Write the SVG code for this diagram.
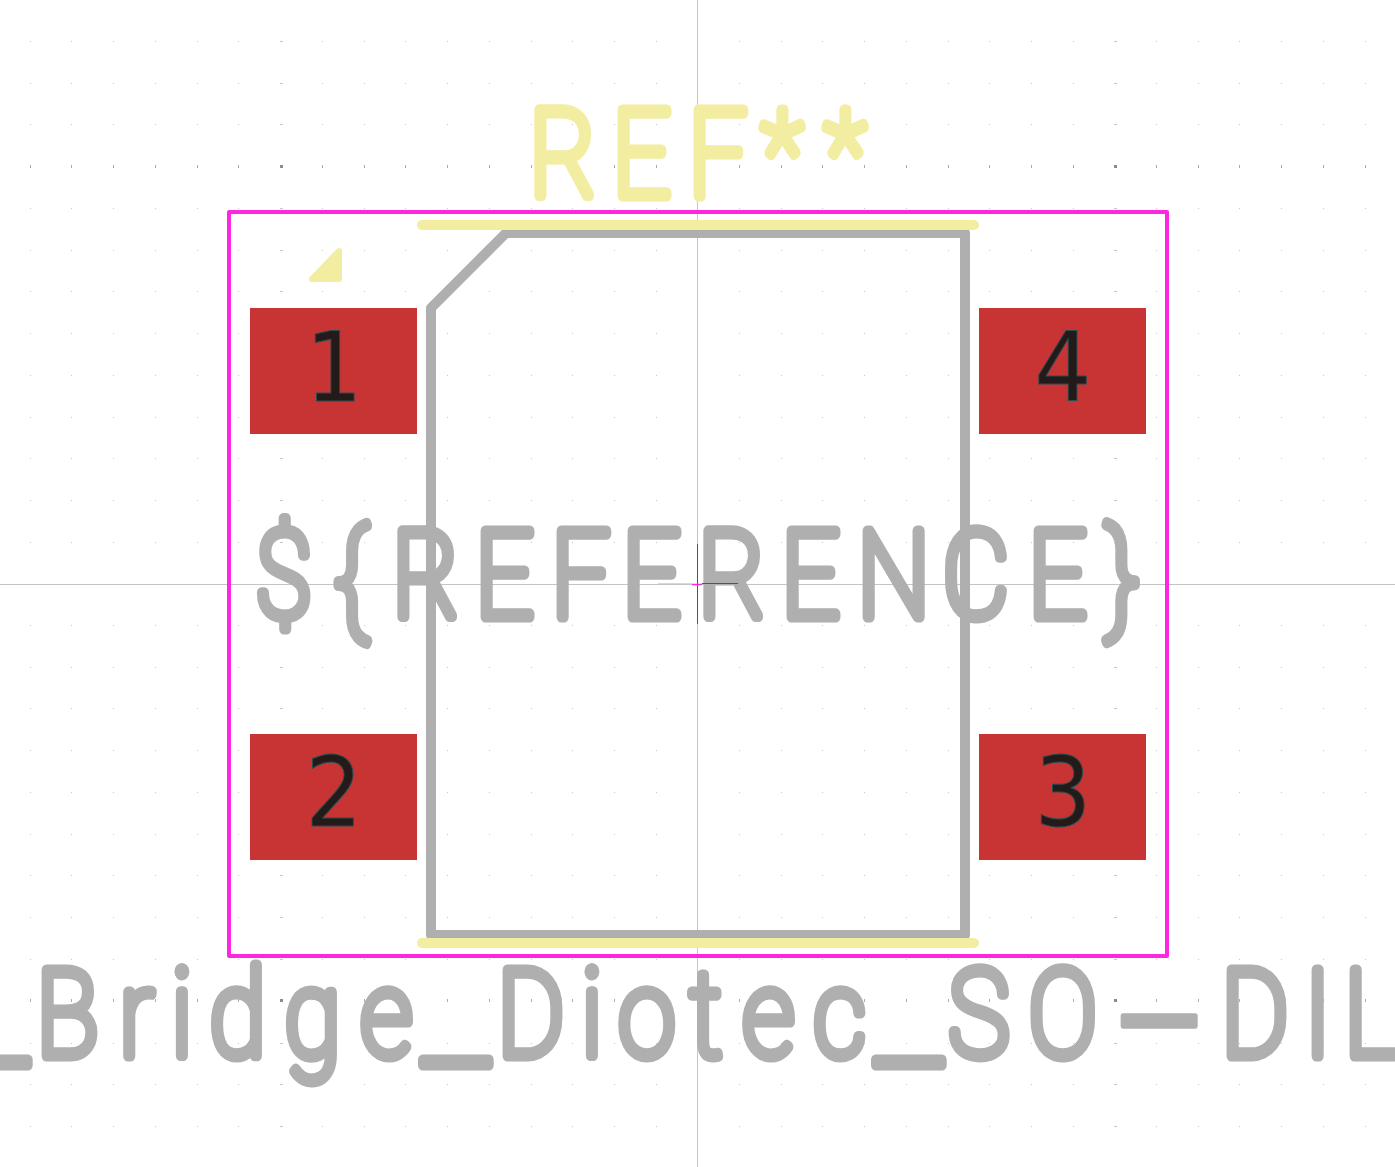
<svg xmlns="http://www.w3.org/2000/svg" xmlns:xlink="http://www.w3.org/1999/xlink" width="1395" height="1167" viewBox="0 0 1395 1167">
<style>
.fab{fill:none;stroke:#afafaf;stroke-width:10;stroke-linejoin:round;stroke-linecap:round}
.silk{fill:none;stroke:#f2eda1;stroke-width:10;stroke-linecap:round;stroke-linejoin:round}
.pad{fill:#c83434}
.num{font-family:"DejaVu Sans",sans-serif;font-size:97px;fill:#231a1a;stroke:#2b4c50;stroke-width:1;text-anchor:middle}
.big{font-family:Roboto,sans-serif;font-weight:100;font-size:121px;stroke-width:11px;stroke-linejoin:round;stroke-linecap:round}
.g{fill:#afafaf;stroke:#afafaf}
.y{fill:#f2eda1;stroke:#f2eda1}
.u{font-size:189px}.h{font-size:369px;stroke-width:6px}.a{font-size:115px}
</style>
<defs>
<path id="minorRow" fill="none" stroke="#c6c6c6" d="M30 .5h1M71 .5h1M113 .5h1M155 .5h1M197 .5h1M238 .5h1M322 .5h1M364 .5h1M405 .5h1M447 .5h1M489 .5h1M531 .5h1M572 .5h1M614 .5h1M656 .5h1M739 .5h1M781 .5h1M822 .5h1M864 .5h1M906 .5h1M948 .5h1M989 .5h1M1031 .5h1M1073 .5h1M1156 .5h1M1198 .5h1M1239 .5h1M1281 .5h1M1323 .5h1M1365 .5h1M280 .5h3M1114 .5h3"/>
<path id="majorRow" fill="none" stroke="#ababab" d="M30.5-1v3M71.5-1v3M113.5-1v3M155.5-1v3M197.5-1v3M238.5-1v3M322.5-1v3M364.5-1v3M405.5-1v3M447.5-1v3M489.5-1v3M531.5-1v3M572.5-1v3M614.5-1v3M656.5-1v3M739.5-1v3M781.5-1v3M822.5-1v3M864.5-1v3M906.5-1v3M948.5-1v3M989.5-1v3M1031.5-1v3M1073.5-1v3M1156.5-1v3M1198.5-1v3M1239.5-1v3M1281.5-1v3M1323.5-1v3M1365.5-1v3"/>
</defs>
<rect width="1395" height="1167" fill="#fff"/>
<g id="grid">
<use xlink:href="#minorRow" y="41"/><use xlink:href="#minorRow" y="83"/><use xlink:href="#minorRow" y="124"/><use xlink:href="#minorRow" y="208"/><use xlink:href="#minorRow" y="250"/><use xlink:href="#minorRow" y="291"/><use xlink:href="#minorRow" y="333"/><use xlink:href="#minorRow" y="375"/><use xlink:href="#minorRow" y="417"/><use xlink:href="#minorRow" y="458"/><use xlink:href="#minorRow" y="500"/><use xlink:href="#minorRow" y="542"/><use xlink:href="#minorRow" y="625"/><use xlink:href="#minorRow" y="667"/><use xlink:href="#minorRow" y="708"/><use xlink:href="#minorRow" y="750"/><use xlink:href="#minorRow" y="792"/><use xlink:href="#minorRow" y="834"/><use xlink:href="#minorRow" y="875"/><use xlink:href="#minorRow" y="917"/><use xlink:href="#minorRow" y="959"/><use xlink:href="#minorRow" y="1043"/><use xlink:href="#minorRow" y="1084"/><use xlink:href="#minorRow" y="1126"/>
<use xlink:href="#majorRow" y="166"/><use xlink:href="#majorRow" y="1000"/>
<path fill="#8a8a8a" d="M280 165h3v3h-3zM1114 165h3v3h-3zM280 999h3v3h-3zM1114 999h3v3h-3z"/>
</g>
<g id="axes" stroke="#c4c4c4" fill="none"><path d="M697.5 0V1167M0 584.5H1395"/></g>
<g id="courtyard"><rect x="229" y="212" width="938" height="744" fill="none" stroke="#ff26e2" stroke-width="4" stroke-linejoin="round"/></g>
<g id="fab-outline"><path class="fab" d="M431 308L506 233H965V935H431Z"/></g>
<g id="value-text"><text class="big g" transform="scale(.85 1)"><tspan class="u" x="-45.1" y="1059.7">_</tspan><tspan x="42.7 140.4 201.5 246.5 334.7 424.1" y="1056.5">Bridge</tspan><tspan class="u" x="497.3" y="1059.7">_</tspan><tspan x="585.1 683.9 727.6 811.4 873.5 957" y="1056.5">Diotec</tspan><tspan class="u" x="1030.2" y="1059.7">_</tspan><tspan x="1115.9 1210" y="1056.5">SO</tspan><tspan class="h" x="1310.4" y="1141">-</tspan><tspan x="1436.8 1534.5 1581.5" y="1056.5">DIL</tspan></text></g>
<g id="fab-ref-text"><text class="big g" transform="scale(.85 1)" x="300.6 393.4 461.5 559.2 648.6 732.1 821.5 919.2 1008.6 1108.8 1209.8 1300.8" y="617.5">${REFERENCE}</text></g>
<g id="silkscreen"><path class="silk" d="M422 225H974M422 943H974"/><path d="M312 279H339V251Z" fill="#f2eda1" stroke="#f2eda1" stroke-width="6" stroke-linejoin="round"/></g>
<g id="ref-text"><text class="big y" transform="scale(.85 1)"><tspan x="622.7 720.4 809.8" y="196.5">REF</tspan><tspan class="a" x="896 970" y="192">**</tspan></text></g>
<g id="pad1"><rect class="pad" x="250" y="308" width="167" height="126"/><text class="num" transform="scale(.92 1)" x="363" y="401.5">1</text></g>
<g id="pad2"><rect class="pad" x="250" y="734" width="167" height="126"/><text class="num" transform="scale(.92 1)" x="363" y="826.5">2</text></g>
<g id="pad3"><rect class="pad" x="979" y="734" width="167" height="126"/><text class="num" transform="scale(.92 1)" x="1155.4" y="826.5">3</text></g>
<g id="pad4"><rect class="pad" x="979" y="308" width="167" height="126"/><text class="num" transform="scale(.92 1)" x="1155.4" y="401.5">4</text></g>
<g id="anchor" fill="none"><path stroke="#555" d="M697.5 544V624M702 583.5H738"/><path stroke="#f6c4ea" d="M658 583.5H692"/><path stroke="#ff26e2" stroke-width="1.5" d="M692 584.5H702"/></g>
</svg>
